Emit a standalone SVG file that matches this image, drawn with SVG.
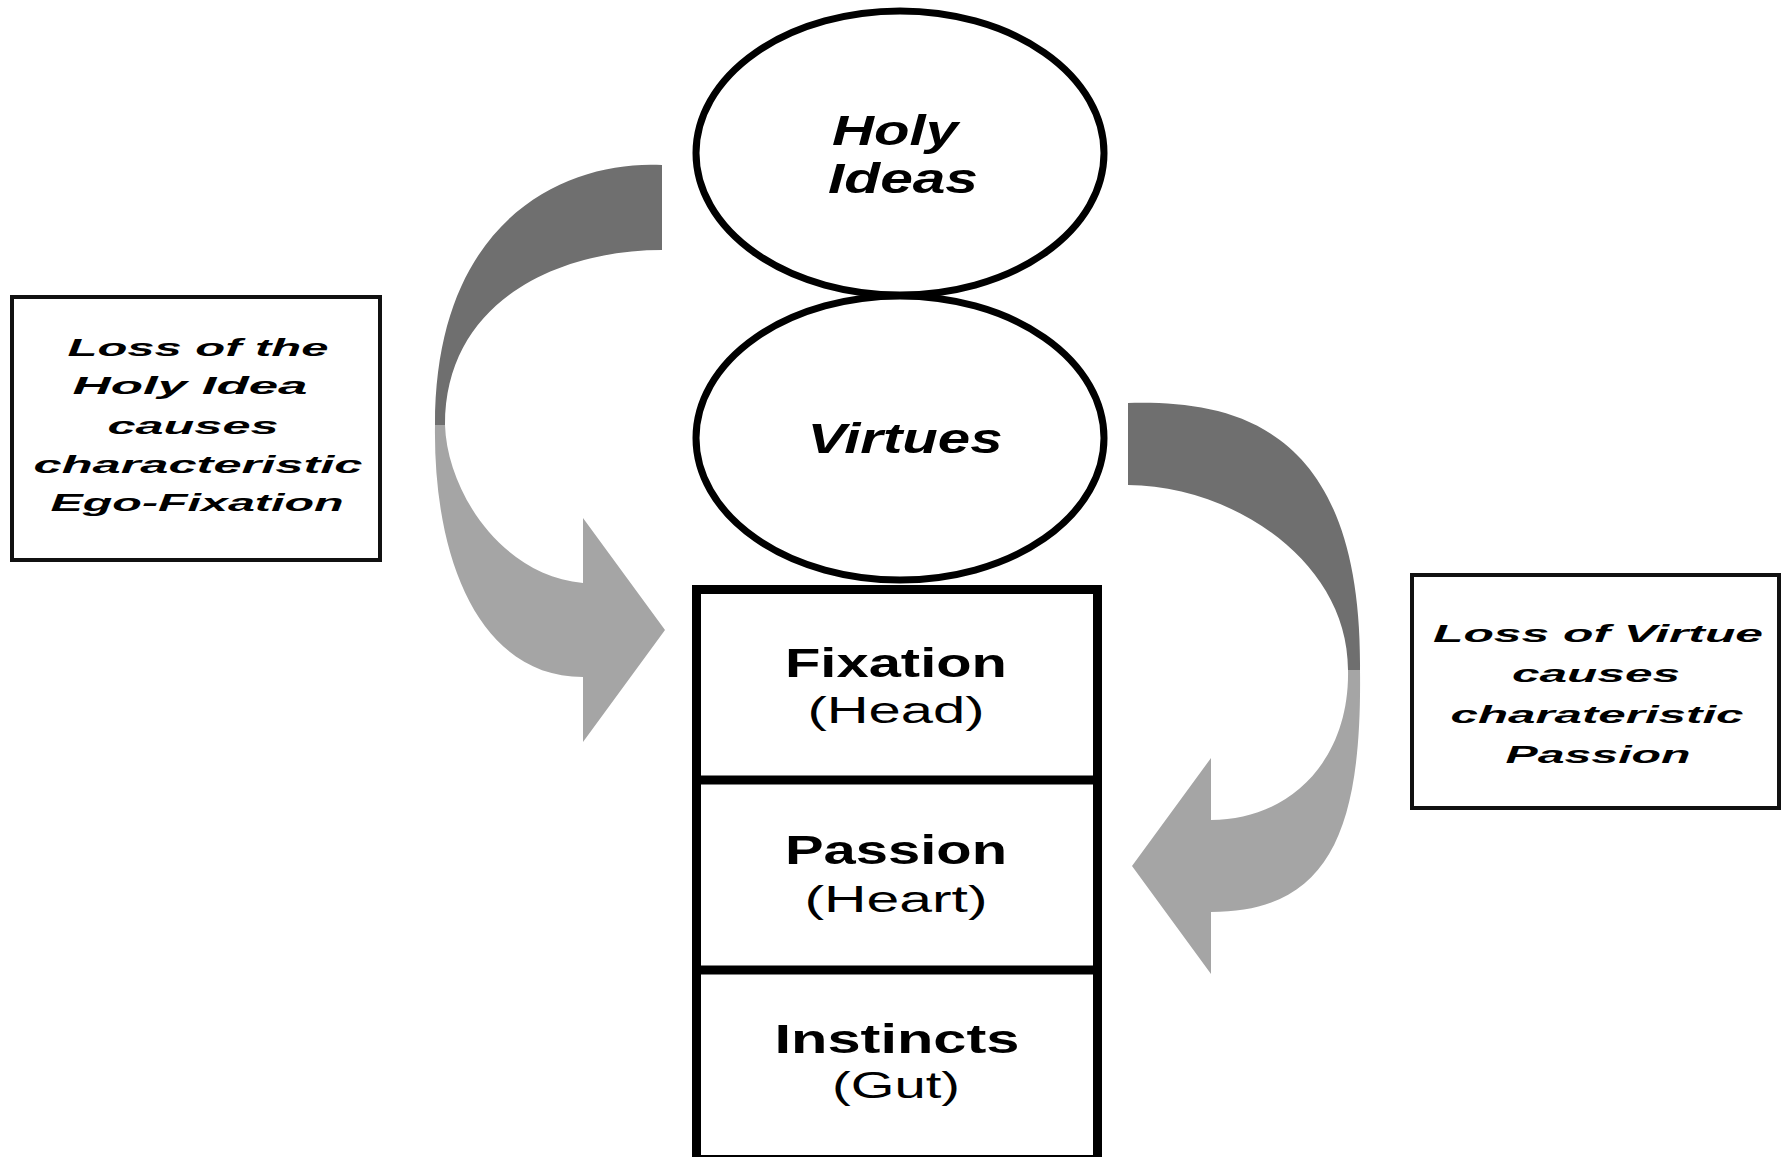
<svg xmlns="http://www.w3.org/2000/svg" width="1787" height="1157" viewBox="0 0 1787 1157">
<style>
.ell{fill:#fff;stroke:#000;stroke-width:7}
.box{fill:#fff;stroke:#111;stroke-width:4}
.stack{fill:#fff;stroke:#000;stroke-width:9}
.div{stroke:#000;stroke-width:9}
.dark{fill:#6f6f6f}
.light{fill:#a5a5a5}
.bi{font-family:"Liberation Sans",Arial,sans-serif;font-weight:bold;font-style:italic;text-anchor:middle;fill:#000}
.b{font-family:"Liberation Sans",Arial,sans-serif;font-weight:bold;text-anchor:middle;fill:#000}
.r{font-family:"Liberation Sans",Arial,sans-serif;text-anchor:middle;fill:#000}
</style>
<rect width="1787" height="1157" fill="#fff"/>
<g id="connectors">
<g id="arrow-left">
<path class="dark" d="M662,165 C570,160 435,215 435,425 L445,425 C445,300 560,250 662,250 Z"/>
<path class="light" d="M435,425 C433,560 480,677 583,677 L583,742 L665,630 L583,518 L583,583 C500,575 447,490 445,425 Z"/>
</g>
<g id="arrow-right">
<path class="dark" d="M1128,403 C1240,400 1362,430 1360,670 L1348,670 C1348,560 1230,485 1128,485 Z"/>
<path class="light" d="M1360,670 C1362,830 1330,912 1211,912 L1211,974 L1132,866 L1211,758 L1211,820 C1290,820 1350,760 1348,670 Z"/>
</g>
</g>
<g id="holy-ideas">
<ellipse class="ell" cx="900" cy="153" rx="204" ry="142"/>
<text class="bi" x="895" y="145" font-size="42" textLength="126" lengthAdjust="spacingAndGlyphs">Holy</text>
<text class="bi" x="903" y="193" font-size="42" textLength="150" lengthAdjust="spacingAndGlyphs">Ideas</text>
</g>
<g id="virtues">
<ellipse class="ell" cx="900" cy="438" rx="204" ry="142"/>
<text class="bi" x="905" y="453" font-size="42" textLength="195" lengthAdjust="spacingAndGlyphs">Virtues</text>
</g>
<g id="stack">
<rect class="stack" x="696.5" y="589.5" width="401" height="570"/>
<line class="div" x1="696" y1="780" x2="1098" y2="780"/>
<line class="div" x1="696" y1="970" x2="1098" y2="970"/>
</g>
<g id="fixation">
<text class="b" x="896" y="677" font-size="41" textLength="222" lengthAdjust="spacingAndGlyphs">Fixation</text>
<text class="r" x="896" y="723" font-size="36" textLength="177" lengthAdjust="spacingAndGlyphs">(Head)</text>
</g>
<g id="passion">
<text class="b" x="896" y="864" font-size="41" textLength="222" lengthAdjust="spacingAndGlyphs">Passion</text>
<text class="r" x="896" y="912" font-size="36" textLength="183" lengthAdjust="spacingAndGlyphs">(Heart)</text>
</g>
<g id="instincts">
<text class="b" x="897" y="1053" font-size="41" textLength="245" lengthAdjust="spacingAndGlyphs">Instincts</text>
<text class="r" x="896" y="1098" font-size="36" textLength="128" lengthAdjust="spacingAndGlyphs">(Gut)</text>
</g>
<g id="note-left">
<rect class="box" x="12" y="297" width="368" height="263"/>
<text class="bi" font-size="24" x="198" y="356" textLength="261" lengthAdjust="spacingAndGlyphs">Loss of the</text>
<text class="bi" font-size="24" x="190" y="394" textLength="235" lengthAdjust="spacingAndGlyphs">Holy Idea</text>
<text class="bi" font-size="24" x="193" y="434" textLength="171" lengthAdjust="spacingAndGlyphs">causes</text>
<text class="bi" font-size="24" x="198" y="473" textLength="329" lengthAdjust="spacingAndGlyphs">characteristic</text>
<text class="bi" font-size="24" x="197" y="511" textLength="293" lengthAdjust="spacingAndGlyphs">Ego-Fixation</text>
</g>
<g id="note-right">
<rect class="box" x="1412" y="575" width="367" height="233"/>
<text class="bi" font-size="24" x="1598" y="642" textLength="330" lengthAdjust="spacingAndGlyphs">Loss of Virtue</text>
<text class="bi" font-size="24" x="1596" y="682" textLength="168" lengthAdjust="spacingAndGlyphs">causes</text>
<text class="bi" font-size="24" x="1597" y="723" textLength="293" lengthAdjust="spacingAndGlyphs">charateristic</text>
<text class="bi" font-size="24" x="1598" y="763" textLength="185" lengthAdjust="spacingAndGlyphs">Passion</text>
</g>
</svg>
